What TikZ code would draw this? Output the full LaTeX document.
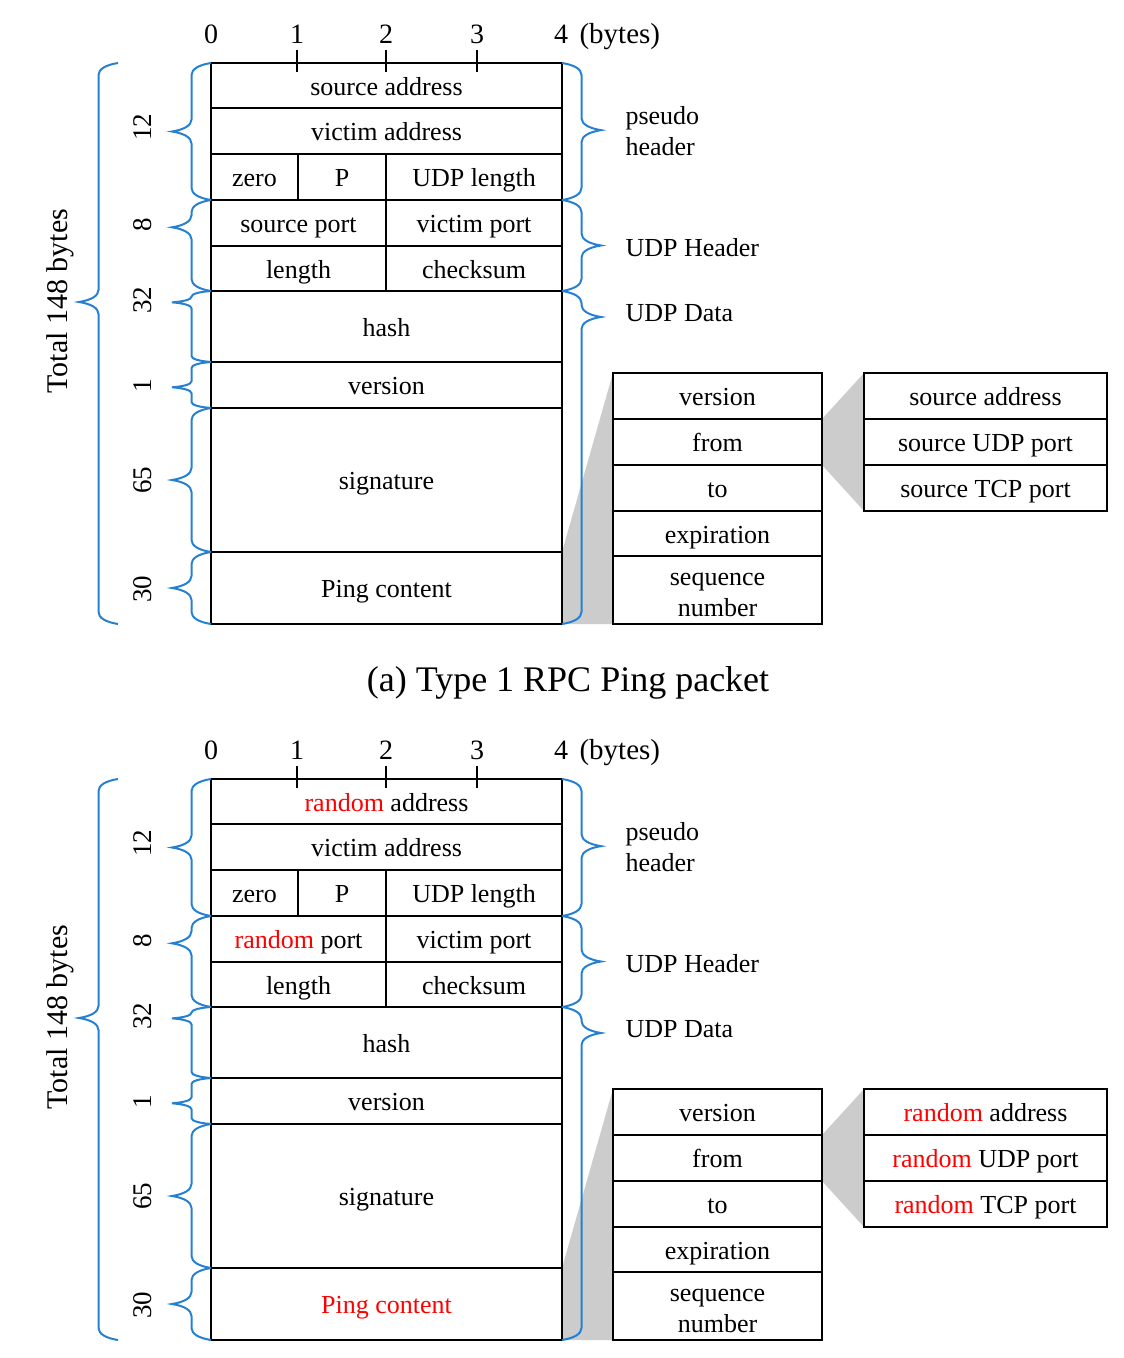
\documentclass[tikz,border=0pt]{standalone}
\usepackage{fontspec}
\setmainfont{Liberation Serif}
\usepackage{tikz}
\usetikzlibrary{decorations.pathreplacing}
\usetikzlibrary{backgrounds}
\definecolor{braceblue}{RGB}{38,128,210}

\begin{document}
\begin{tikzpicture}[
		x=1pt,
		y=-1pt,
		cell/.style={draw, line width=2.6pt, inner sep=0pt, outer sep=0pt, anchor=north west, font=\fontsize{26}{31}\selectfont, text height=24pt, text depth=5pt},
		multi/.style={draw, line width=2.6pt, inner sep=0pt, outer sep=0pt, anchor=north west, font=\fontsize{26}{31}\selectfont, align=center},
		curly/.style={draw=braceblue, line width=2pt, decorate, decoration={brace, amplitude=12pt, transform={yscale=3.25}}},
		curlyshort/.style={curly, decoration={amplitude=6pt, transform={yscale=6.5}}},
		num/.style={font=\fontsize{28}{33}\selectfont},
		side/.style={rotate=90, font=\fontsize{27}{32}\selectfont},
		lbl/.style={anchor=west, align=left, font=\fontsize{26}{31}\selectfont}
	]
		\useasboundingbox (0,0) rectangle (1124,1358);
		\foreach \dy/\who/\pc in {0/source/black, 716/{\textcolor{red}{random}}/red}{
		\begin{scope}[yshift=-\dy pt]
			% byte ruler
			\foreach \k/\bx in {0/211, 1/297, 2/386, 3/477, 4/561}
				\node[num, anchor=base] (b\k) at (\bx,43) {\k};
			\node[num, anchor=base west, font=\fontsize{29}{34}\selectfont] (unit) at (576,43) {(bytes)};
			\foreach \bx in {297,386,477}
				\draw[line width=1.2pt] (\bx,50) -- (\bx,72);
			% packet
			\node[cell, minimum width=351pt, minimum height=45pt] (srcaddr) at (211,63) {\who\ address};
			\node[cell, minimum width=351pt, minimum height=46pt] (vicaddr) at (211,108) {victim address};
			\node[cell, minimum width=87pt, minimum height=46pt] (zero) at (211,154) {zero};
			\node[cell, minimum width=88pt, minimum height=46pt] (proto) at (298,154) {P};
			\node[cell, minimum width=176pt, minimum height=46pt] (udplen) at (386,154) {UDP length};
			\node[cell, minimum width=175pt, minimum height=46pt] (srcport) at (211,200) {\who\ port};
			\node[cell, minimum width=176pt, minimum height=46pt] (vicport) at (386,200) {victim port};
			\node[cell, minimum width=175pt, minimum height=45pt] (len) at (211,246) {length};
			\node[cell, minimum width=176pt, minimum height=45pt] (chksum) at (386,246) {checksum};
			\node[cell, minimum width=351pt, minimum height=71pt] (hash) at (211,291) {hash};
			\node[cell, minimum width=351pt, minimum height=46pt] (ver) at (211,362) {version};
			\node[cell, minimum width=351pt, minimum height=144pt] (sig) at (211,408) {signature};
			\node[cell, minimum width=351pt, minimum height=72pt, text=\pc] (ping) at (211,552) {Ping content};
			% ping content fields
			\node[cell, minimum width=209pt, minimum height=46pt] (dver) at (613,373) {version};
			\node[cell, minimum width=209pt, minimum height=46pt] (dfrom) at (613,419) {from};
			\node[cell, minimum width=209pt, minimum height=46pt] (dto) at (613,465) {to};
			\node[cell, minimum width=209pt, minimum height=45pt] (dexp) at (613,511) {expiration};
			\node[multi, minimum width=209pt, minimum height=68pt] (dseq) at (613,556) {\strut sequence\\number};
			% from fields
			\node[cell, minimum width=243pt, minimum height=46pt] (aaddr) at (864,373) {\who\ address};
			\node[cell, minimum width=243pt, minimum height=46pt] (audp) at (864,419) {\who\ UDP port};
			\node[cell, minimum width=243pt, minimum height=46pt] (atcp) at (864,465) {\who\ TCP port};
			\begin{scope}[on background layer]
				\fill[black!20] (ping.north east) -- (dver.north west) -- (dseq.south west) -- (ping.south east) -- cycle;
				\fill[black!20] (dfrom.north east) -- (aaddr.north west) -- (atcp.south west) -- (dfrom.south east) -- cycle;
			\end{scope}
			% braces left
			\draw[curly, decoration={aspect=.5}] (zero.south west) -- (srcaddr.north west);
			\draw[curly, decoration={aspect=.7}] (len.south west) -- (srcport.north west);
			\draw[curlyshort, decoration={aspect=.84}] (hash.south west) -- (hash.north west);
			\draw[curlyshort, decoration={aspect=.45}] (ver.south west) -- (ver.north west);
			\draw[curly, decoration={aspect=.5}] (sig.south west) -- (sig.north west);
			\draw[curly, decoration={aspect=.5}] (ping.south west) -- (ping.north west);
			\draw[curly, decoration={aspect=.574}] ([xshift=-93pt]ping.south west) -- ([xshift=-93pt]srcaddr.north west);
			% braces right
			\draw[curly, decoration={aspect=.49}] (srcaddr.north east) -- (udplen.south east);
			\draw[curly, decoration={aspect=.5}] (vicport.north east) -- (chksum.south east);
			\draw[curly, decoration={aspect=.078}] (hash.north east) -- (ping.south east);
			% sizes
			\node[side] (n12) at (143,127) {12};
			\node[side] (n8) at (143,225) {8};
			\node[side] (n32) at (143,300) {32};
			\node[side] (n1) at (143,386) {1};
			\node[side] (n65) at (143,480) {65};
			\node[side] (n30) at (143,589) {30};
			\node[side, font=\fontsize{30}{35}\selectfont] (total) at (60,301) {Total 148 bytes};
			\node[lbl] (pseudo) at (622,131) {pseudo\\header};
			\node[lbl] (udph) at (622,248) {UDP Header};
			\node[lbl] (udpd) at (622,313) {UDP Data};
		\end{scope}
		}
		\node[font=\fontsize{36}{41}\selectfont] (caption) at (568,683) {(a) Type 1 RPC Ping packet};
\end{tikzpicture}
\end{document}
